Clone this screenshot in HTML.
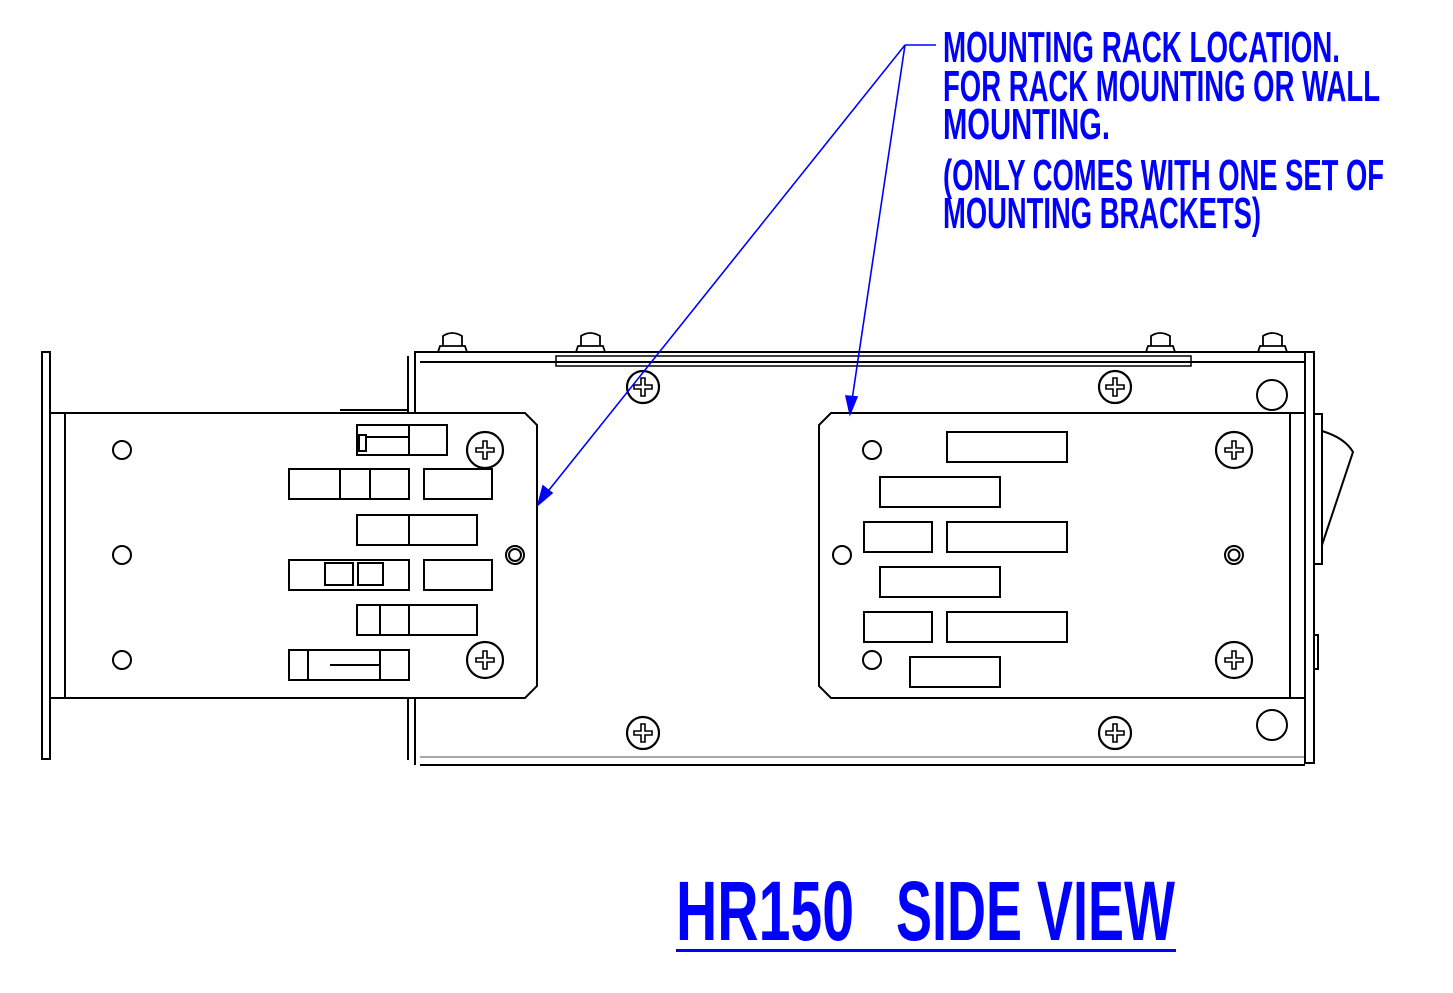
<!DOCTYPE html>
<html><head><meta charset="utf-8"><style>
html,body{margin:0;padding:0;background:#fff;}
svg{display:block}
</style></head><body>
<svg width="1453" height="993" viewBox="0 0 1453 993" xmlns="http://www.w3.org/2000/svg">
<g fill="none" stroke="#000" stroke-width="2">
  <rect x="42" y="352" width="8" height="407"/>
  <line x1="50" y1="362" x2="50" y2="750"/>
  <!-- main housing -->
  <path d="M415 413 L415 352 L1305 352"/>
  <line x1="415" y1="698" x2="415" y2="765"/>
  <path d="M420 765 L1305 765"/>
  <line x1="420" y1="757" x2="1305" y2="757" stroke="#888" stroke-width="1.5"/>
  <line x1="420" y1="362" x2="1305" y2="362"/>
  <line x1="408" y1="356" x2="408" y2="413"/>
  <line x1="408" y1="698" x2="408" y2="760"/>
  <rect x="1305" y="352" width="9" height="411"/>
  <rect x="556" y="356" width="635" height="10" stroke-width="1.5"/>
  <!-- band -->
  <line x1="65" y1="413" x2="65" y2="698"/>
  <line x1="50" y1="413" x2="65" y2="413"/>
  <line x1="50" y1="698" x2="65" y2="698"/>
  <line x1="1290" y1="413" x2="1305" y2="413"/>
  <line x1="1290" y1="698" x2="1305" y2="698"/>
  <line x1="1290" y1="413" x2="1290" y2="698"/>
  <!-- left bracket -->
  <path d="M65 413 L525 413 L537 425 L537 686 L525 698 L65 698"/>
  <line x1="340" y1="410" x2="408" y2="410"/>
  <!-- right bracket -->
  <path d="M831 413 L1290 413 L1290 698 L831 698 L819 686 L819 425 Z"/>
  <!-- rocker -->
  <rect x="1314" y="414" width="8" height="150"/>
  <path d="M1322 431 Q1345 438 1353 452 L1322 545"/>
  <rect x="1314" y="635" width="4" height="34"/>
  <g stroke-width="1.8">
    <path d="M438 352 L440 346 L465 346 L467 352 M443 346 L443 336 Q452 330 462 336 L462 346"/>
    <path d="M576 352 L578 346 L603 346 L605 352 M581 346 L581 336 Q590 330 600 336 L600 346"/>
    <path d="M1146 352 L1148 346 L1173 346 L1175 352 M1151 346 L1151 336 Q1160 330 1170 336 L1170 346"/>
    <path d="M1258 352 L1260 346 L1285 346 L1287 352 M1263 346 L1263 336 Q1272 330 1282 336 L1282 346"/>
  </g>
  <circle cx="122" cy="450" r="9"/><circle cx="122" cy="555" r="9"/><circle cx="122" cy="660" r="9"/>
  <circle cx="872" cy="450" r="9"/><circle cx="842" cy="555" r="9"/><circle cx="872" cy="660" r="9"/>
  <circle cx="1272" cy="395" r="15"/><circle cx="1272" cy="725" r="15"/>
  <circle cx="515" cy="555" r="9"/><circle cx="515" cy="555" r="6"/>
  <circle cx="1234" cy="555" r="9"/><circle cx="1234" cy="555" r="5.5"/>
  <rect x="947" y="432" width="120" height="30"/>
  <rect x="880" y="477" width="120" height="30"/>
  <rect x="864" y="522" width="68" height="30"/>
  <rect x="947" y="522" width="120" height="30"/>
  <rect x="880" y="567" width="120" height="30"/>
  <rect x="864" y="612" width="68" height="30"/>
  <rect x="947" y="612" width="120" height="30"/>
  <rect x="910" y="657" width="90" height="30"/>
  <rect x="357" y="425" width="90" height="30"/><line x1="409" y1="425" x2="409" y2="455"/>
  <line x1="367" y1="437" x2="409" y2="437"/><rect x="359" y="435" width="7" height="16"/>
  <rect x="289" y="469" width="120" height="30"/><line x1="340" y1="469" x2="340" y2="499"/><line x1="370" y1="469" x2="370" y2="499"/>
  <rect x="424" y="469" width="68" height="30"/>
  <rect x="357" y="515" width="120" height="30"/><line x1="409" y1="515" x2="409" y2="545"/>
  <rect x="289" y="560" width="120" height="30"/><rect x="325" y="563" width="28" height="22"/><rect x="358" y="563" width="25" height="22"/>
  <rect x="424" y="560" width="68" height="30"/>
  <rect x="357" y="605" width="120" height="30"/><line x1="380" y1="605" x2="380" y2="635"/><line x1="409" y1="605" x2="409" y2="635"/>
  <rect x="289" y="650" width="120" height="30"/><line x1="308" y1="650" x2="308" y2="680"/><line x1="330" y1="665" x2="380" y2="665"/><line x1="380" y1="650" x2="380" y2="680"/>
</g>
<g fill="none" stroke="#000" stroke-width="2.2">
  <g transform="translate(643,387)"><circle r="16"/><path d="M-9 -2 H-2 V-9 H2 V-2 H9 V2 H2 V9 H-2 V2 H-9 Z" stroke-width="1.6"/></g>
  <g transform="translate(1115,387)"><circle r="16"/><path d="M-9 -2 H-2 V-9 H2 V-2 H9 V2 H2 V9 H-2 V2 H-9 Z" stroke-width="1.6"/></g>
  <g transform="translate(643,733)"><circle r="16"/><path d="M-9 -2 H-2 V-9 H2 V-2 H9 V2 H2 V9 H-2 V2 H-9 Z" stroke-width="1.6"/></g>
  <g transform="translate(1115,733)"><circle r="16"/><path d="M-9 -2 H-2 V-9 H2 V-2 H9 V2 H2 V9 H-2 V2 H-9 Z" stroke-width="1.6"/></g>
  <g transform="translate(485,450)"><circle r="18"/><path d="M-9 -2 H-2 V-9 H2 V-2 H9 V2 H2 V9 H-2 V2 H-9 Z" stroke-width="1.6"/></g>
  <g transform="translate(485,660)"><circle r="18"/><path d="M-9 -2 H-2 V-9 H2 V-2 H9 V2 H2 V9 H-2 V2 H-9 Z" stroke-width="1.6"/></g>
  <g transform="translate(1234,450)"><circle r="18"/><path d="M-9 -2 H-2 V-9 H2 V-2 H9 V2 H2 V9 H-2 V2 H-9 Z" stroke-width="1.6"/></g>
  <g transform="translate(1234,660)"><circle r="18"/><path d="M-9 -2 H-2 V-9 H2 V-2 H9 V2 H2 V9 H-2 V2 H-9 Z" stroke-width="1.6"/></g>
</g>
<g stroke="#0000ff" stroke-width="1.6" fill="#0000ff">
  <line x1="905" y1="45" x2="936" y2="45"/>
  <line x1="905" y1="45" x2="545" y2="495"/>
  <line x1="905" y1="45" x2="852" y2="400"/>
  <path d="M538 505 L543 486 L552 493 Z"/>
  <path d="M850 414 L846 396 L857 397 Z"/>
</g>
<g fill="#0000ff" font-family="'Liberation Sans Narrow','Liberation Sans',sans-serif" font-weight="bold">
  <text x="943" y="62" font-size="44" textLength="397" lengthAdjust="spacingAndGlyphs">MOUNTING RACK LOCATION.</text>
  <text x="943" y="101" font-size="44" textLength="437" lengthAdjust="spacingAndGlyphs">FOR RACK MOUNTING OR WALL</text>
  <text x="943" y="139" font-size="44" textLength="167" lengthAdjust="spacingAndGlyphs">MOUNTING.</text>
  <text x="943" y="190" font-size="44" textLength="441" lengthAdjust="spacingAndGlyphs">(ONLY COMES WITH ONE SET OF</text>
  <text x="943" y="228" font-size="44" textLength="318" lengthAdjust="spacingAndGlyphs">MOUNTING BRACKETS)</text>
  <text x="676" y="940" font-size="84" textLength="178" lengthAdjust="spacingAndGlyphs">HR150</text>
  <text x="896" y="940" font-size="84" textLength="279" lengthAdjust="spacingAndGlyphs">SIDE VIEW</text>
  <rect x="676" y="949" width="500" height="3"/>
</g>
</svg>
</body></html>
